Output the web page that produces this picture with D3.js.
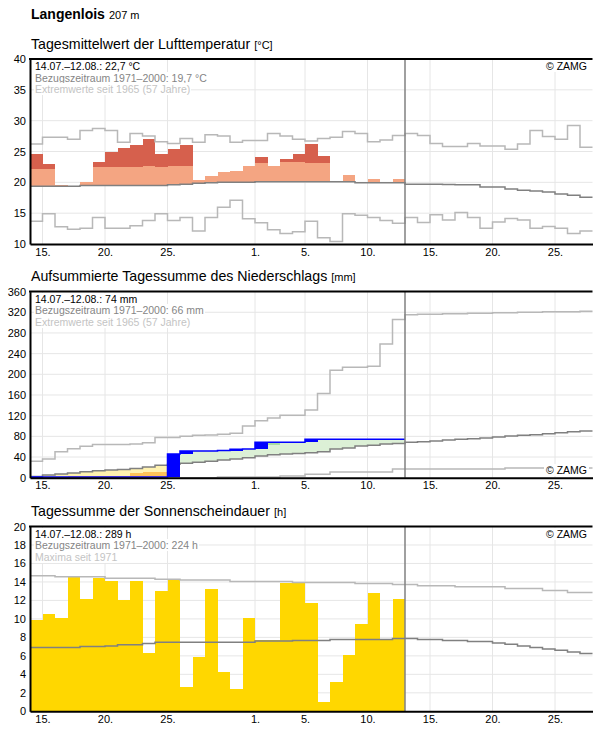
<!DOCTYPE html>
<html>
<head>
<meta charset="utf-8">
<script src="https://cdn.jsdelivr.net/npm/d3@7"></script>
<style>
  body { margin: 0; background: #fff; }
  svg text { font-family: "Liberation Sans", Arial, sans-serif; }
  svg rect { shape-rendering: crispEdges; }
</style>
</head>
<body>
<div id="chart"></div>
<script>
// ---------- data (Langenlois) ----------
const startDate = "2021-07-14";
const periodDays = 45;      // axis 14.07. - 28.08.
const observedDays = 30;    // 14.07. - 12.08.
const tickDays = ["2021-07-15", "2021-07-20", "2021-07-25", "2021-08-01", "2021-08-05",
                  "2021-08-10", "2021-08-15", "2021-08-20", "2021-08-25"];

// Lufttemperatur, Tagesmittel [°C]
const tempValues = [24.6, 23.0, 19.6, 18.5, 20.1, 23.3, 24.9, 25.6, 26.0, 27.0,
                    24.6, 25.4, 26.0, 20.4, 21.0, 21.7, 21.8, 22.6, 24.1, 22.6,
                    23.8, 24.6, 26.2, 24.3, 19.0, 21.2, 19.2, 20.5, 19.0, 20.5];
const tempUpperBand = [22.15, 22.15, 22.2, 22.3, 22.4, 22.5, 22.5, 22.5, 22.5, 22.6,
                       22.5, 22.6, 22.6, 22.7, 22.8, 22.9, 22.9, 23.0, 23.1, 23.2,
                       23.3, 23.3, 23.2, 23.2, 23.2, 23.2, 23.1, 23.1, 23.0, 23.0];
const tempNormal = [19.35, 19.35, 19.35, 19.35, 19.5, 19.5, 19.5, 19.5, 19.5, 19.5,
                    19.5, 19.6, 19.7, 19.85, 19.95, 20.0, 20.0, 20.0, 20.1, 20.1,
                    20.1, 20.1, 20.1, 20.1, 20.1, 20.1, 19.95, 19.95, 19.95, 19.95,
                    19.7, 19.7, 19.7, 19.65, 19.6, 19.6, 19.25, 19.25, 18.9, 18.7,
                    18.6, 18.45, 18.1, 17.9, 17.6];
const tempMax = [26.2, 27.3, 27.3, 27.0, 28.4, 28.75, 28.4, 26.5, 27.9, 27.5,
                 26.6, 26.3, 27.1, 26.5, 27.7, 27.5, 26.5, 26.8, 26.8, 27.9,
                 27.5, 27.0, 26.7, 27.1, 27.3, 28.25, 27.9, 26.6, 26.85, 27.6,
                 27.9, 27.6, 26.3, 25.8, 25.8, 26.3, 25.9, 25.9, 25.35, 26.2,
                 28.4, 27.45, 27.0, 29.2, 25.7];
const tempMin = [13.7, 14.9, 12.8, 12.4, 12.55, 14.3, 12.55, 12.55, 12.95, 13.8,
                 14.9, 13.8, 14.3, 12.1, 14.3, 15.95, 17.1, 14.1, 13.45, 12.3,
                 11.7, 12.0, 13.7, 11.0, 10.4, 14.9, 14.65, 14.3, 13.8, 13.35,
                 14.3, 13.5, 14.75, 13.9, 15.1, 14.3, 12.55, 13.55, 14.15, 13.9,
                 12.55, 12.85, 12.55, 11.7, 12.1];

// Niederschlag [mm]
const precipDaily = [1.5, 0, 0, 0, 0, 0, 0, 0, 0, 0,
                     0, 44.3, 5.8, 0, 0, 0.9, 2.4, 0.6, 13.3, 0,
                     0, 0, 5.4, 0, 0, 0, 0, 0, 0, 0];
const precipDryBand = [1.0, 1.5, 2.0, 2.5, 3.5, 3.5, 3.8, 3.9, 9.7, 10.4,
                       10.6, 12, 13, 14, 15, 16, 17, 18, 20, 21,
                       22, 23, 23.5, 24.5, 27, 28, 30, 30.5, 32, 33];
const precipWetBand = [5, 9, 12, 15, 19, 22, 24, 26, 29, 33,
                       38, 47, 52, 55, 58, 60, 61.5, 62.5, 63, 63.5,
                       69.5, 71, 75, 77, 80, 82, 86, 88, 91, 93];
const precipNormal = [2.5, 5, 7, 9, 11.5, 13.5, 15, 16, 18, 20.5,
                      24, 26, 28, 30, 32, 34, 36.2, 38.7, 42, 44.5,
                      46, 47, 48.4, 50.3, 55.5, 57.4, 61.3, 62.6, 65.2, 66,
                      68.4, 69.7, 71, 72.9, 74.2, 75.5, 76.8, 78.7, 80.7, 81.9,
                      83.2, 85.1, 87, 89, 90.3];
const precipMax = [32, 36, 50, 56, 61, 64, 64, 64, 65, 67.5,
                   78, 78, 80, 82, 82.5, 84, 86, 100, 110, 115.5,
                   121, 121, 131, 163, 208, 213.5, 213.5, 215.5, 258.6, 306,
                   315, 316, 316, 317, 317, 318, 318, 319, 319, 320,
                   320, 321, 321, 321, 322];
const precipMin = [0, 0, 0, 0, 0, 0, 0, 0, 0, 0,
                   0, 0, 0, 0, 0, 1.3, 1.3, 1.3, 1.3, 1.3,
                   3.2, 3.2, 6.5, 6.5, 11, 11, 11, 11, 11, 16.8,
                   16.8, 16.8, 16.8, 16.8, 16.8, 16.8, 16.8, 16.8, 18.7, 18.7,
                   18.7, 18.7, 18.7, 18.7, 18.7];

// Sonnenscheindauer [h]
const sunValues = [9.9, 10.5, 10.1, 14.5, 12.2, 14.4, 14.1, 12.0, 14.1, 6.3,
                   13.0, 14.2, 2.6, 5.9, 13.2, 4.2, 2.4, 10.1, 7.7, 7.7,
                   13.9, 13.9, 11.7, 1.0, 3.2, 6.1, 9.5, 12.8, 7.7, 12.2];
const sunNormal = [6.9, 6.9, 6.9, 6.9, 7.0, 7.0, 7.08, 7.2, 7.2, 7.33,
                   7.47, 7.47, 7.47, 7.47, 7.47, 7.47, 7.47, 7.47, 7.6, 7.6,
                   7.6, 7.66, 7.66, 7.66, 7.77, 7.77, 7.77, 7.77, 7.77, 7.87,
                   7.87, 7.77, 7.77, 7.66, 7.66, 7.55, 7.55, 7.4, 7.26, 7.08,
                   6.9, 6.75, 6.6, 6.42, 6.25];
const sunMax = [14.67, 14.67, 14.56, 14.56, 14.56, 14.56, 14.41, 14.41, 14.41, 14.41,
                14.3, 14.3, 14.2, 14.2, 14.2, 14.2, 14.05, 14.05, 14.05, 14.05,
                14.05, 13.95, 13.95, 13.95, 13.95, 13.95, 13.84, 13.84, 13.84, 13.73,
                13.73, 13.6, 13.6, 13.6, 13.48, 13.48, 13.48, 13.48, 13.3, 13.3,
                13.3, 13.08, 13.08, 12.87, 12.87];

const tempLegend = ["14.07.–12.08.: 22,7 °C", "Bezugszeitraum 1971–2000: 19,7 °C", "Extremwerte seit 1965 (57 Jahre)"];
const precipLegend = ["14.07.–12.08.: 74 mm", "Bezugszeitraum 1971–2000: 66 mm", "Extremwerte seit 1965 (57 Jahre)"];
const sunLegend = ["14.07.–12.08.: 289 h", "Bezugszeitraum 1971–2000: 224 h", "Maxima seit 1971"];

// ---------- setup ----------
const parseDay = d3.timeParse("%Y-%m-%d");
const day0 = parseDay(startDate);
const plotLeft = 30, plotRight = 592.5;

const svg = d3.select("#chart").append("svg")
    .attr("width", 596)
    .attr("height", 729);

const x = d3.scaleTime()
    .domain([day0, d3.timeDay.offset(day0, periodDays)])
    .range([plotLeft, plotRight]);

const dayX = i => x(d3.timeDay.offset(day0, i));
const dayW = dayX(1) - dayX(0);

const colors = {
    grid: "#e6e6e6",
    normal: "#808080",
    extreme: "#b8b8b8",
    salmon: "#f4a582",
    red: "#d6604d",
    blue: "#0000ff",
    green: "#dcf0d6",
    darkGreen: "#a9dba4",
    yellow: "#fff2b0",
    orange: "#fec35a",
    sun: "#ffd700"
};

// header
const header = svg.append("text")
    .attr("x", 31).attr("y", 18.5)
    .attr("font-size", 14).attr("font-weight", "bold")
    .text("Langenlois");
header.append("tspan").attr("font-size", 11).attr("font-weight", "normal").attr("dx", 4).text("207 m");

// step line over day index, last value held to the end of its day
function stepPath(y, arr) {
    return d3.line()
        .curve(d3.curveStepAfter)
        .x((d, i) => dayX(i))
        .y(d => y(d))(arr.concat([arr[arr.length - 1]]));
}

function drawPanel(cfg) {
    const g = svg.append("g");
    const y = d3.scaleLinear().domain(cfg.domain).range([cfg.bottom, cfg.top]);

    // title
    const t = g.append("text")
        .attr("x", 31).attr("y", cfg.top - 10.5)
        .attr("font-size", 14.2)
        .text(cfg.title);
    t.append("tspan").attr("font-size", 11).attr("dx", 4).text(cfg.unit);

    // grid
    g.append("g").selectAll("line")
        .data(cfg.yTicks.slice(1, -1))
        .join("line")
        .attr("x1", plotLeft).attr("x2", plotRight)
        .attr("y1", d => y(d)).attr("y2", d => y(d))
        .attr("stroke", colors.grid);
    g.append("g").selectAll("line")
        .data(tickDays.map(parseDay))
        .join("line")
        .attr("x1", d => x(d)).attr("x2", d => x(d))
        .attr("y1", cfg.top).attr("y2", cfg.bottom)
        .attr("stroke", colors.grid);

    const layer = g.append("g");
    const top = g.append("g");

    return {
        g: layer, y,
        finish() {
            // today marker
            top.append("line")
                .attr("x1", dayX(observedDays)).attr("x2", dayX(observedDays))
                .attr("y1", cfg.top).attr("y2", cfg.bottom)
                .attr("stroke", colors.normal).attr("stroke-width", 1.5);

            // legend with white boxes
            cfg.legend.forEach((txt, i) => {
                const lt = top.append("text")
                    .attr("x", 35).attr("y", cfg.top + 11 + i * 11.5)
                    .attr("font-size", 10.5)
                    .attr("fill", ["#000", "#858585", "#c4c4c4"][i])
                    .text(txt);
                const bb = lt.node().getBBox();
                top.insert("rect", () => lt.node())
                    .attr("x", bb.x - 1).attr("y", bb.y)
                    .attr("width", bb.width + 2).attr("height", bb.height)
                    .attr("fill", "#fff");
            });
            const zy = cfg.zamgBottom ? cfg.bottom - 3.5 : cfg.top + 11;
            const zt = top.append("text")
                .attr("x", 587).attr("y", zy)
                .attr("text-anchor", "end")
                .attr("font-size", 10.5)
                .text("© ZAMG");
            const zb = zt.node().getBBox();
            top.insert("rect", () => zt.node())
                .attr("x", zb.x - 2).attr("y", zb.y)
                .attr("width", zb.width + 4).attr("height", zb.height)
                .attr("fill", "#fff");

            // axes
            const ya = top.append("g")
                .attr("transform", `translate(${plotLeft},0)`)
                .call(d3.axisLeft(y).tickValues(cfg.yTicks).tickSize(0).tickSizeOuter(0).tickPadding(4));
            const xa = top.append("g")
                .attr("transform", `translate(0,${cfg.bottom})`)
                .call(d3.axisBottom(x).tickValues(tickDays.map(parseDay))
                    .tickFormat(d3.timeFormat("%-d.")).tickSize(0).tickSizeOuter(0).tickPadding(4));
            [ya, xa].forEach(a => {
                a.selectAll("text").attr("font-size", 11).attr("font-family", null).attr("fill", "#000");
                a.select(".domain").attr("stroke", "#000").attr("stroke-width", 2);
            });
            top.append("line")
                .attr("x1", plotLeft - 1).attr("x2", plotRight)
                .attr("y1", cfg.top).attr("y2", cfg.top)
                .attr("stroke", "#000").attr("stroke-width", 2);
        }
    };
}

// ---------- Lufttemperatur ----------
{
    const p = drawPanel({
        title: "Tagesmittelwert der Lufttemperatur", unit: "[°C]",
        top: 59, bottom: 244, domain: [10, 40],
        yTicks: d3.range(10, 41, 5), legend: tempLegend
    });
    const y = p.y;
    const days = d3.range(observedDays);

    p.g.selectAll(".warm").data(days.filter(i => tempValues[i] > tempNormal[i]))
        .join("rect").attr("class", "warm")
        .attr("x", i => dayX(i)).attr("width", dayW)
        .attr("y", i => y(Math.min(tempValues[i], tempUpperBand[i])))
        .attr("height", i => y(tempNormal[i]) - y(Math.min(tempValues[i], tempUpperBand[i])))
        .attr("fill", colors.salmon);
    p.g.selectAll(".hot").data(days.filter(i => tempValues[i] > tempUpperBand[i]))
        .join("rect").attr("class", "hot")
        .attr("x", i => dayX(i)).attr("width", dayW)
        .attr("y", i => y(tempValues[i]))
        .attr("height", i => y(tempUpperBand[i]) - y(tempValues[i]))
        .attr("fill", colors.red);

    [[tempMax, colors.extreme], [tempMin, colors.extreme], [tempNormal, colors.normal]].forEach(([arr, c]) => {
        p.g.append("path").attr("d", stepPath(y, arr))
            .attr("fill", "none").attr("stroke", c).attr("stroke-width", 1.5);
    });
    p.finish();
}

// ---------- Niederschlag ----------
{
    const p = drawPanel({
        title: "Aufsummierte Tagessumme des Niederschlags", unit: "[mm]",
        top: 291.6, bottom: 477.7, domain: [0, 360],
        yTicks: d3.range(0, 361, 40), legend: precipLegend, zamgBottom: true
    });
    const y = p.y;
    const cum = d3.cumsum(precipDaily);
    const days = d3.range(observedDays);

    const band = (cls, filter, lo, hi, color) => {
        p.g.selectAll("." + cls).data(days.filter(filter))
            .join("rect").attr("class", cls)
            .attr("x", i => dayX(i)).attr("width", dayW)
            .attr("y", i => y(hi(i)))
            .attr("height", i => y(lo(i)) - y(hi(i)))
            .attr("fill", color);
    };
    band("wet", i => cum[i] > precipNormal[i], i => precipNormal[i], i => cum[i], colors.green);
    band("vwet", i => cum[i] > precipWetBand[i], i => precipWetBand[i], i => cum[i], colors.darkGreen);
    band("dry", i => cum[i] < precipNormal[i], i => cum[i], i => precipNormal[i], colors.yellow);
    band("vdry", i => cum[i] < precipDryBand[i], i => cum[i], i => precipDryBand[i], colors.orange);

    [[precipMax, colors.extreme], [precipMin, colors.extreme], [precipNormal, colors.normal]].forEach(([arr, c]) => {
        p.g.append("path").attr("d", stepPath(y, arr))
            .attr("fill", "none").attr("stroke", c).attr("stroke-width", 1.5);
    });

    p.g.append("path").attr("d", stepPath(y, Array.from(cum)))
        .attr("fill", "none").attr("stroke", colors.blue).attr("stroke-width", 1.5);
    band("rain", i => precipDaily[i] > 0, i => cum[i] - precipDaily[i], i => cum[i], colors.blue);
    p.finish();
}

// ---------- Sonnenscheindauer ----------
{
    const p = drawPanel({
        title: "Tagessumme der Sonnenscheindauer", unit: "[h]",
        top: 526.5, bottom: 711.3, domain: [0, 20],
        yTicks: d3.range(0, 21, 2), legend: sunLegend
    });
    const y = p.y;

    p.g.selectAll(".sun").data(sunValues)
        .join("rect").attr("class", "sun")
        .attr("x", (d, i) => dayX(i)).attr("width", dayW)
        .attr("y", d => y(d))
        .attr("height", d => y(0) - y(d))
        .attr("fill", colors.sun);

    [[sunMax, colors.extreme], [sunNormal, colors.normal]].forEach(([arr, c]) => {
        p.g.append("path").attr("d", stepPath(y, arr))
            .attr("fill", "none").attr("stroke", c).attr("stroke-width", 1.5);
    });
    p.finish();
}
</script>
</body>
</html>
